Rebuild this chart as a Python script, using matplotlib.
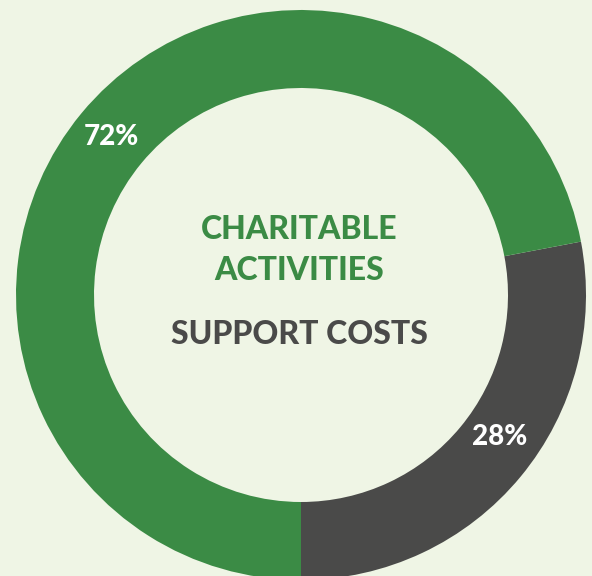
import matplotlib
matplotlib.use("Agg")
import matplotlib.pyplot as plt

# data
categories = ["Support costs", "Charitable activities"]
shares = [28, 72]
pct_labels = ["28%", "72%"]
colors = ["#4a4a49", "#3b8b45"]

bg = "#eff5e5"
W, H = 592, 576

fig = plt.figure(figsize=(W / 100, H / 100), dpi=100, facecolor=bg)
ax = fig.add_axes([0, 0, 1, 1])
ax.set_facecolor(bg)

center = (301, H - 295)
radius = 285
ring = 78

wedges, _ = ax.pie(shares, colors=colors, startangle=-90, counterclock=True,
                   center=center, radius=radius, frame=True,
                   wedgeprops=dict(width=ring, linewidth=0))
ax.set_xlim(0, W)
ax.set_ylim(0, H)
ax.set_aspect("equal")
ax.axis("off")

font = "Lato"
# percent labels on the ring
ax.text(500, H - 437, pct_labels[0], color="white", fontsize=20, fontweight="black",
        family=font, ha="center", va="center")
ax.text(111, H - 137, pct_labels[1], color="white", fontsize=20, fontweight="black",
        family=font, ha="center", va="center")

# centre captions
ax.text(299, H - 250, "CHARITABLE\nACTIVITIES", color=colors[1], fontsize=23,
        fontweight="black", family=font, ha="center", va="center", linespacing=1.5)
ax.text(299, H - 335, "SUPPORT COSTS", color=colors[0], fontsize=23,
        fontweight="black", family=font, ha="center", va="center")

fig.savefig("out.png", dpi=100, facecolor=bg)
